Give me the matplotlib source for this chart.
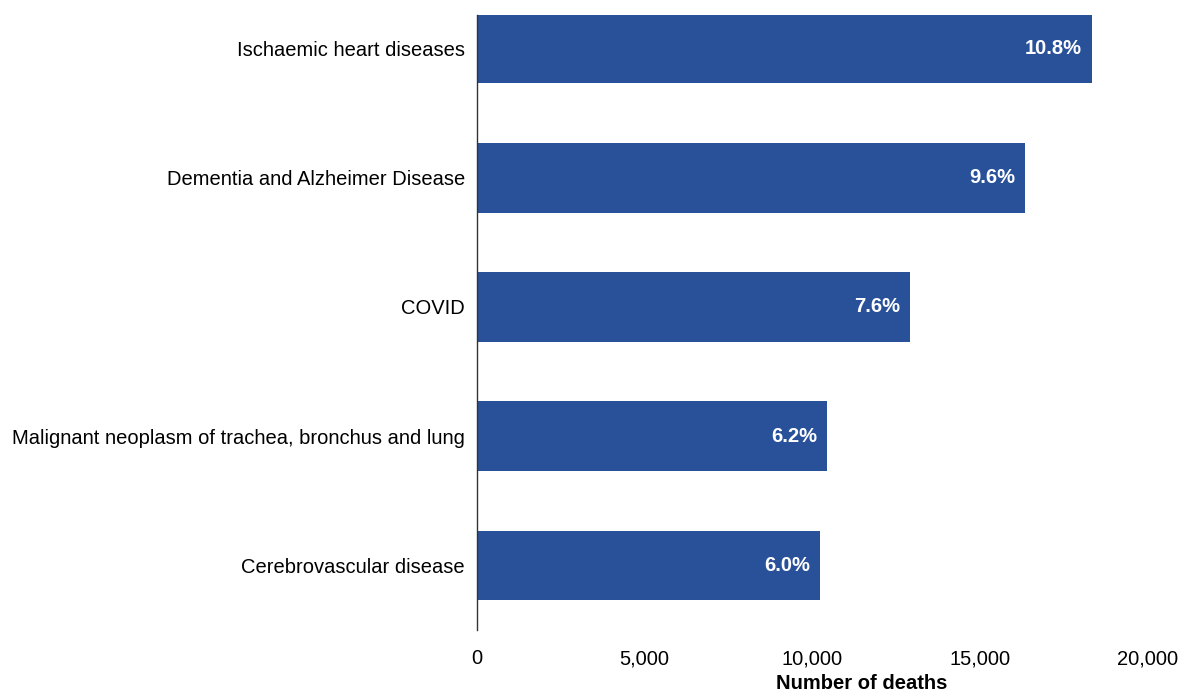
import matplotlib.pyplot as plt

causes = ["Ischaemic heart diseases",
          "Dementia and Alzheimer Disease",
          "COVID",
          "Malignant neoplasm of trachea, bronchus and lung",
          "Cerebrovascular disease"]
deaths = [18330, 16330, 12900, 10440, 10220]
shares = ["10.8%", "9.6%", "7.6%", "6.2%", "6.0%"]
xticks = [0, 5000, 10000, 15000, 20000]

plt.rcParams['font.family'] = ['Liberation Sans', 'DejaVu Sans']
fs = 14.5

fig = plt.figure(figsize=(11.83, 6.91), dpi=100)
ax = fig.add_axes([0.4032, 0.0883, 0.5672, 0.89])

pos = list(range(len(causes)))
bars = ax.barh(pos, deaths, height=0.54, color='#29519A')

for b, s in zip(bars, shares):
    ax.text(b.get_width() - 300, b.get_y() + b.get_height() / 2, s,
            ha='right', va='center', color='white', fontsize=fs, fontweight='bold')

ax.set_yticks(pos)
ax.set_yticklabels(causes, fontsize=fs)
ax.set_ylim(4.5, -0.26)
ax.set_xlim(0, 20000)
ax.set_xticks(xticks)
ax.set_xticklabels([f"{v:,}" for v in xticks], fontsize=fs)
ax.tick_params(axis='both', length=0)
ax.tick_params(axis='x', pad=24.5)
ax.tick_params(axis='y', pad=8.6)
for lab in ax.get_xticklabels():
    lab.set_verticalalignment('baseline')
ax.set_xlabel("Number of deaths", fontsize=fs, fontweight='bold')
ax.xaxis.set_label_coords(0.574, -0.071)

for side in ['top', 'right', 'bottom']:
    ax.spines[side].set_visible(False)
ax.spines['left'].set_color('#333333')
ax.spines['left'].set_linewidth(1)

fig.savefig('out.png', dpi=100)
